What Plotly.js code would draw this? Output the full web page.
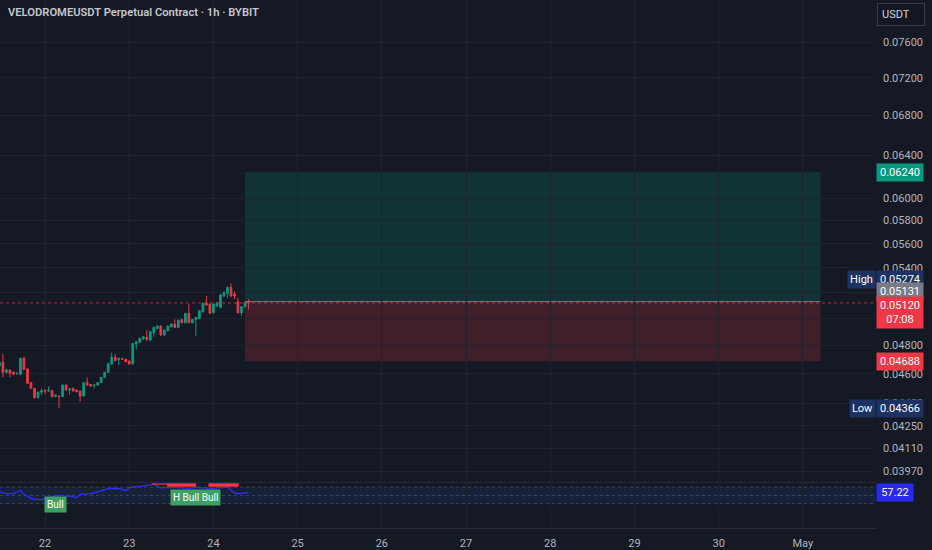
<!DOCTYPE html>
<html><head><meta charset="utf-8">
<script src="https://cdn.plot.ly/plotly-3.0.1.min.js"></script>
<style>html,body{margin:0;padding:0;background:#151924;overflow:hidden}#chart{width:932px;height:550px;}</style>
</head><body><div id="chart"></div>
<script>
// ---- data ----
const startHour = Date.UTC(2025, 3, 21, 11); // first 1h candle
const opens = [0.04654,0.04680,0.04610,0.04626,0.04610,0.04600,0.04596,0.04709,0.04633,0.04538,0.04500,0.04436,0.04473,0.04483,0.04481,0.04483,0.04443,0.04447,0.04443,0.04522,0.04490,0.04500,0.04488,0.04481,0.04447,0.04538,0.04525,0.04520,0.04522,0.04538,0.04575,0.04610,0.04668,0.04716,0.04700,0.04706,0.04702,0.04689,0.04668,0.04811,0.04825,0.04850,0.04860,0.04840,0.04894,0.04927,0.04944,0.04877,0.04909,0.04939,0.04959,0.04934,0.04994,0.04969,0.05040,0.04969,0.04994,0.05002,0.05052,0.05118,0.05112,0.05044,0.05096,0.05086,0.05174,0.05195,0.05242,0.05190,0.05130,0.05044,0.05091,0.05131];
const highs = [0.04690,0.04740,0.04635,0.04630,0.04615,0.04610,0.04712,0.04720,0.04640,0.04540,0.04502,0.04478,0.04500,0.04495,0.04511,0.04488,0.04458,0.04450,0.04525,0.04525,0.04500,0.04503,0.04490,0.04483,0.04540,0.04575,0.04528,0.04526,0.04540,0.04578,0.04612,0.04675,0.04749,0.04740,0.04712,0.04712,0.04706,0.04692,0.04820,0.04835,0.04860,0.04870,0.04914,0.04909,0.04940,0.04950,0.04950,0.04918,0.04948,0.04965,0.04994,0.04994,0.04998,0.05045,0.05112,0.04998,0.05015,0.05065,0.05122,0.05174,0.05115,0.05118,0.05125,0.05190,0.05210,0.05250,0.05274,0.05210,0.05160,0.05096,0.05130,0.05149];
const lows = [0.04645,0.04575,0.04600,0.04575,0.04590,0.04595,0.04590,0.04625,0.04530,0.04495,0.04430,0.04430,0.04454,0.04460,0.04475,0.04440,0.04438,0.04366,0.04440,0.04485,0.04454,0.04478,0.04472,0.04409,0.04445,0.04518,0.04510,0.04500,0.04518,0.04535,0.04570,0.04606,0.04664,0.04688,0.04661,0.04698,0.04680,0.04665,0.04664,0.04772,0.04815,0.04840,0.04835,0.04835,0.04865,0.04920,0.04870,0.04872,0.04905,0.04934,0.04930,0.04930,0.04965,0.04965,0.04965,0.04965,0.04870,0.04998,0.05048,0.05100,0.05035,0.05040,0.05090,0.05080,0.05165,0.05160,0.05168,0.05150,0.05040,0.05019,0.05086,0.05070];
const closes = [0.04680,0.04610,0.04626,0.04603,0.04596,0.04603,0.04709,0.04631,0.04534,0.04500,0.04436,0.04473,0.04483,0.04481,0.04485,0.04443,0.04454,0.04443,0.04522,0.04488,0.04495,0.04481,0.04477,0.04447,0.04538,0.04522,0.04515,0.04522,0.04538,0.04575,0.04610,0.04672,0.04716,0.04692,0.04709,0.04702,0.04684,0.04668,0.04816,0.04828,0.04853,0.04865,0.04846,0.04902,0.04934,0.04944,0.04877,0.04914,0.04944,0.04959,0.04934,0.04989,0.04969,0.05040,0.04969,0.04994,0.05009,0.05060,0.05118,0.05104,0.05040,0.05112,0.05118,0.05182,0.05200,0.05242,0.05174,0.05174,0.05044,0.05091,0.05123,0.05120];
const indicator = [58.1,57,55.9,55.9,55.9,58,60,55,52,49.5,48.5,47.8,47.8,49,50.5,51,53,53.6,53.6,52.3,52.8,52,50.5,55,55.9,55.9,55.9,57,58.5,59.5,61,62.7,62.7,62.7,62.7,61.5,59.5,64,65,65,65.5,65.9,66.5,67.5,68.6,66,63.6,64,64.1,64,64.5,63.8,63.5,62.8,63,63.5,64,64.1,63.6,63,63.2,62.7,63.5,64.1,64.5,64.1,60,56.8,55.9,56.5,57.2,57.22];

const dayTicks = ['2025-04-22','2025-04-23','2025-04-24','2025-04-25','2025-04-26','2025-04-27','2025-04-28','2025-04-29','2025-04-30','2025-05-01'];
const dayLabels = ['22','23','24','25','26','27','28','29','30','May'];
const priceTicks = [0.0397,0.0411,0.0425,0.0440,0.0460,0.0480,0.0500,0.0520,0.0540,0.0560,0.0580,0.0600,0.0640,0.0680,0.0720,0.0760];
const hiddenTicks = [0.0520]; // fully covered by price labels in the reference

const entryPrice = 0.05131, targetPrice = 0.06240, stopPrice = 0.04688;
const positionStart = '2025-04-24 09:00', positionEnd = '2025-05-01 05:00';
const lastPrice = 0.05120, lastCountdown = '07:08';
const highPrice = 0.05274, lowPrice = 0.04366;
const lastIndicator = 57.22;
const bandLevels = [42.5, 53.5, 64.5];
const signalStarts = ['2025-04-23 10:45','2025-04-23 22:35'];
const signalEnds   = ['2025-04-23 19:05','2025-04-24 07:10'];
const signalLineStart = '2025-04-23 06:30', signalLineEnd = '2025-04-23 10:45', signalLineValue = 68.6;
const bullLabels = ['Bull','H Bull Bull'];
const bullTimes = ['2025-04-22 03:00','2025-04-23 18:45'];
const bullValues = [42, 51];
const title = 'VELODROMEUSDT Perpetual Contract · 1h · BYBIT';

// ---- build ----
function fmt(ms){const d=new Date(ms);const p=n=>String(n).padStart(2,'0');
  return d.getUTCFullYear()+'-'+p(d.getUTCMonth()+1)+'-'+p(d.getUTCDate())+' '+p(d.getUTCHours())+':00';}
const times = opens.map((_,i)=>fmt(startHour+i*3600000));

const BG='#151924', GRID='#1f2330', TXT='#b2b5be', FONT='Roboto';

const candles = {type:'candlestick', x:times, open:opens, high:highs, low:lows, close:closes,
  xaxis:'x', yaxis:'y', whiskerwidth:0,
  increasing:{line:{color:'#089981',width:1}, fillcolor:'#089981'},
  decreasing:{line:{color:'#f23645',width:1}, fillcolor:'#f23645'},
  hoverinfo:'skip', showlegend:false};
const ind = {type:'scatter', mode:'lines', x:times, y:indicator, xaxis:'x', yaxis:'y2',
  line:{color:'#2e2eff', width:1.3}, hoverinfo:'skip', showlegend:false};

const shapes = [
  {type:'rect', xref:'x', yref:'y', x0:positionStart, x1:positionEnd, y0:entryPrice, y1:targetPrice, fillcolor:'rgba(8,153,129,0.2)', line:{width:0}, layer:'below'},
  {type:'rect', xref:'x', yref:'y', x0:positionStart, x1:positionEnd, y0:stopPrice, y1:entryPrice, fillcolor:'rgba(242,54,69,0.2)', line:{width:0}, layer:'below'},
  {type:'line', xref:'x', yref:'y', x0:positionStart, x1:positionEnd, y0:entryPrice, y1:entryPrice, line:{color:'rgba(150,152,160,0.7)', width:1}, layer:'below'},
  {type:'line', xref:'paper', yref:'y', x0:0, x1:1, y0:lastPrice, y1:lastPrice, line:{color:'rgba(242,54,69,0.75)', width:1, dash:'dot'}, layer:'below'},
  {type:'rect', xref:'paper', yref:'y2', x0:0, x1:1, y0:bandLevels[0], y1:bandLevels[2], fillcolor:'rgba(33,80,160,0.18)', line:{width:0}, layer:'below'},
  {type:'line', xref:'paper', yref:'paper', x0:0, x1:1, y0:0.0866, y1:0.0866, line:{color:'#2a2e39', width:1}}
];
bandLevels.forEach(v=>shapes.push({type:'line', xref:'paper', yref:'y2', x0:0, x1:1, y0:v, y1:v, line:{color:'rgba(120,123,134,0.45)', width:1, dash:'dot'}, layer:'below'}));
signalStarts.forEach((s,i)=>shapes.push({type:'rect', xref:'x', yref:'y2', x0:s, x1:signalEnds[i], y0:65, y1:69.6, fillcolor:'#f23645', line:{width:0}}));
shapes.push({type:'line', xref:'x', yref:'y2', x0:signalLineStart, x1:signalLineEnd, y0:signalLineValue, y1:signalLineValue, line:{color:'#f23645', width:1.2}});

const L10 = Math.log10;
function priceLabel(val, text, bg, yshift, extra){
  return Object.assign({xref:'paper', yref:'y', x:1, y:L10(val), xanchor:'left', xshift:1, yshift:yshift||0,
    text:text, showarrow:false, bgcolor:bg, borderpad:2, width:42, align:'center',
    font:{family:FONT, size:11, color:'#ffffff'}}, extra||{});
}
const annotations = [
  {xref:'paper', yref:'paper', x:0, y:1, xanchor:'left', yanchor:'top', xshift:6, yshift:-4, text:title, showarrow:false,
   font:{family:FONT, size:11.2, color:'#c4c7cf', weight:600}},
  {xref:'paper', yref:'paper', x:1, y:1, xanchor:'left', yanchor:'top', xshift:2, yshift:-3, text:'USDT', showarrow:false,
   bgcolor:'#131722', bordercolor:'#3a3e4a', borderwidth:1, borderpad:4, width:38, align:'left',
   font:{family:FONT, size:11, color:'#d1d4dc'}},
  priceLabel(targetPrice, targetPrice.toFixed(5), '#089981', 0),
  priceLabel(highPrice, highPrice.toFixed(5), '#1c3263', 4),
  {xref:'paper', yref:'y', x:1, y:L10(highPrice), xanchor:'right', xshift:1, yshift:4, text:'High', showarrow:false,
   bgcolor:'#1c3263', borderpad:2, width:23, font:{family:FONT, size:11, color:'#ffffff'}},
  priceLabel(entryPrice, entryPrice.toFixed(5), '#787b86', 10),
  priceLabel(lastPrice, lastPrice.toFixed(5)+'<br>'+lastCountdown, '#f23645', 7, {yanchor:'top'}),
  priceLabel(stopPrice, stopPrice.toFixed(5), '#f23645', 0),
  priceLabel(lowPrice, lowPrice.toFixed(5), '#1c3263', 0),
  {xref:'paper', yref:'y', x:1, y:L10(lowPrice), xanchor:'right', xshift:1, text:'Low', showarrow:false,
   bgcolor:'#1c3263', borderpad:2, width:21, font:{family:FONT, size:11, color:'#ffffff'}},
  {xref:'paper', yref:'y2', x:1, y:lastIndicator, xanchor:'left', xshift:1, text:lastIndicator.toFixed(2), showarrow:false,
   bgcolor:'#2a2aef', borderpad:2, width:32, font:{family:FONT, size:11, color:'#ffffff'}}
];
bullLabels.forEach((t,i)=>annotations.push({xref:'x', yref:'y2', x:bullTimes[i], y:bullValues[i], text:t, showarrow:false,
  bgcolor:'#3e9f63', borderpad:2, font:{family:FONT, size:10, color:'#ffffff'}}));

const layout = {
  width:932, height:550, paper_bgcolor:BG, plot_bgcolor:BG,
  margin:{l:0, r:57, t:0, b:22}, showlegend:false,
  xaxis:{type:'date', range:['2025-04-21 11:10','2025-05-01 20:34'], anchor:'y2',
    tickvals:dayTicks, ticktext:dayLabels, showgrid:true, gridcolor:GRID, gridwidth:1,
    showline:true, linecolor:'#2a2e39', zeroline:false, ticks:'', ticklabelstandoff:5,
    tickfont:{family:FONT, size:11, color:TXT}, rangeslider:{visible:false}, fixedrange:true},
  yaxis:{type:'log', domain:[0.0871,1], range:[L10(0.039045), L10(0.080989)], side:'right', anchor:'x',
    tickvals:priceTicks, ticktext:priceTicks.map(v=>hiddenTicks.includes(v)?'':v.toFixed(5)), showgrid:true, gridcolor:GRID,
    zeroline:false, showline:false, ticks:'', ticklabelstandoff:7,
    tickfont:{family:FONT, size:11, color:TXT}, fixedrange:true},
  yaxis2:{domain:[0,0.0852], range:[10,70], anchor:'x', side:'right', showticklabels:false,
    showgrid:false, zeroline:false, showline:false, fixedrange:true},
  shapes:shapes, annotations:annotations
};
Plotly.newPlot('chart', [candles, ind], layout, {staticPlot:true, displayModeBar:false});
</script></body></html>
